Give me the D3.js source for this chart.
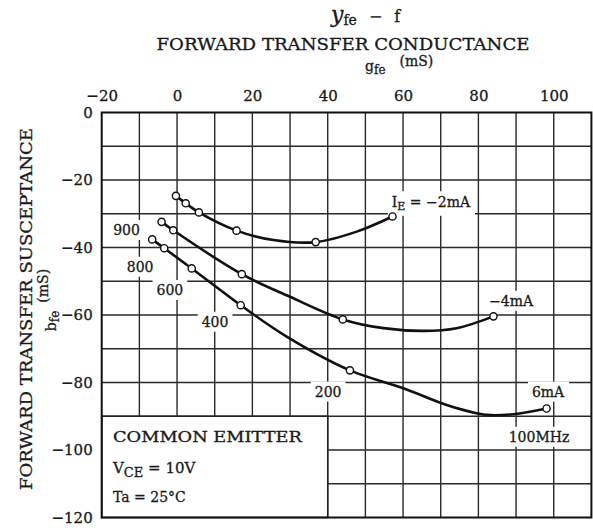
<!DOCTYPE html>
<html>
<head>
<meta charset="utf-8">
<script src="https://cdn.jsdelivr.net/npm/d3@7"></script>
<style>
  body { margin: 0; background: #fff; }
  text { font-family: "DejaVu Serif", "Liberation Serif", serif; fill: #1a1a1a; stroke: #1a1a1a; stroke-width: 0.3; }
</style>
</head>
<body>
<svg id="chart" width="593" height="528"></svg>
<script>
// Data (gfe mS, bfe mS)
const xTicks = [-20, 0, 20, 40, 60, 80, 100];
const yTicks = [0, -20, -40, -60, -80, -100, -120];

const ie2Marks = [[-0.3, -24.7], [2.3, -26.9], [5.8, -29.6], [15.8, -35.0], [36.8, -38.4], [57.2, -30.8]];
const ie2Line = [[-0.3, -24.7], [2.3, -26.9], [5.8, -29.6], [15.8, -35.0], [25.6, -37.8], [36.8, -38.4], [47.7, -35.3], [57.2, -30.8]];

const ie4Marks = [[-4.1, -32.4], [-1.0, -34.9], [17.2, -47.9], [44.0, -61.3], [84.0, -60.4]];
const ie4Line = [[-4.1, -32.4], [-1.0, -34.9], [17.2, -47.9], [30.0, -54.6], [44.0, -61.3], [54.8, -63.9], [65.4, -64.7], [74.2, -63.9], [84.0, -60.4]];

const ie6Marks = [[-6.6, -37.6], [-3.4, -40.2], [3.9, -46.2], [16.9, -57.1], [45.9, -76.4], [98.1, -87.7]];
const ie6Line = [[-6.6, -37.6], [-3.4, -40.2], [3.9, -46.2], [16.9, -57.1], [29.1, -66.4], [45.9, -76.4], [60.1, -81.7], [72, -86.8], [82.2, -89.6], [89.3, -89.4], [98.1, -87.7]];

// annotation labels [text, x, y]
const freqLabels = [["900", -13.4, -34.8], ["800", -9.8, -45.7], ["600", -1.9, -52.6], ["400", 10.1, -62], ["200", 40.1, -82.7], ["6mA", 98.5, -82.7], ["100MHz", 96.1, -96.1], ["−4mA", 88.7, -55.8]];

const svg = d3.select("#chart");
const x = d3.scaleLinear().domain([-20, 110]).range([101.7, 591.4]);
const y = d3.scaleLinear().domain([0, -120]).range([112.5, 517.5]);

// grid
const grid = svg.append("g").attr("stroke", "#2a2a2a").attr("stroke-width", 1.4);
grid.selectAll("line.v")
  .data(d3.range(-10, 110, 10))
  .join("line")
    .attr("x1", d => x(d)).attr("x2", d => x(d))
    .attr("y1", y(0)).attr("y2", y(-120));
grid.selectAll("line.h")
  .data(d3.range(-10, -120, -10))
  .join("line")
    .attr("class", "h")
    .attr("y1", d => y(d)).attr("y2", d => y(d))
    .attr("x1", x(-20)).attr("x2", x(110));

// condition box bottom-left
svg.append("rect")
  .attr("x", x(-20)).attr("y", y(-90))
  .attr("width", x(40) - x(-20)).attr("height", y(-120) - y(-90))
  .attr("fill", "#fff").attr("stroke", "#222").attr("stroke-width", 1.5);

// frame
svg.append("rect")
  .attr("x", x(-20)).attr("y", y(0))
  .attr("width", x(110) - x(-20)).attr("height", y(-120) - y(0))
  .attr("fill", "none").attr("stroke", "#111").attr("stroke-width", 2);

// axes
const xAxis = svg.append("g")
  .attr("transform", `translate(0,${y(0)})`)
  .call(d3.axisTop(x).tickValues(xTicks).tickSize(0).tickPadding(12));
const yAxis = svg.append("g")
  .attr("transform", `translate(${x(-20)},0)`)
  .call(d3.axisLeft(y).tickValues(yTicks).tickSize(0).tickPadding(9));
[xAxis, yAxis].forEach(a => {
  a.select(".domain").remove();
  a.selectAll("text").attr("font-family", "DejaVu Serif").attr("font-size", 15).attr("fill", "#1a1a1a");
});

// frequency labels with white background
const lab = svg.append("g");
freqLabels.forEach(([t, lx, ly]) => {
  const g = lab.append("g");
  const tx = g.append("text")
    .attr("x", x(lx)).attr("y", y(ly))
    .attr("text-anchor", "middle").attr("dominant-baseline", "central")
    .attr("font-size", 14).text(t);
  const b = tx.node().getBBox();
  g.insert("rect", "text")
    .attr("x", b.x - 4).attr("y", b.y - 2)
    .attr("width", b.width + 8).attr("height", b.height + 4)
    .attr("fill", "#fff");
});

// IE = -2mA label
{
  const g = lab.append("g");
  const t = g.append("text")
    .attr("x", x(67.4)).attr("y", y(-26.6))
    .attr("text-anchor", "middle").attr("dominant-baseline", "central")
    .attr("font-size", 14);
  t.append("tspan").text("I");
  t.append("tspan").attr("font-size", 11).attr("dy", 4).text("E");
  t.append("tspan").attr("dy", -4).text(" = −2mA");
  const b = t.node().getBBox();
  g.insert("rect", "text")
    .attr("x", b.x - 4).attr("y", b.y - 3)
    .attr("width", b.width + 8).attr("height", b.height + 6)
    .attr("fill", "#fff");
}

// curves
const line = d3.line().x(d => x(d[0])).y(d => y(d[1])).curve(d3.curveCatmullRom.alpha(0.5));
[ie2Line, ie4Line, ie6Line].forEach(s => {
  svg.append("path").attr("d", line(s))
    .attr("fill", "none").attr("stroke", "#111").attr("stroke-width", 2.6);
});
[ie2Marks, ie4Marks, ie6Marks].forEach(s => {
  svg.append("g").selectAll("circle")
    .data(s)
    .join("circle")
      .attr("cx", d => x(d[0])).attr("cy", d => y(d[1]))
      .attr("r", 3.6)
      .attr("fill", "#fff").attr("stroke", "#111").attr("stroke-width", 1.4);
});

// conditions text
svg.append("text").attr("x", x(-17)).attr("y", y(-96.1))
  .attr("dominant-baseline", "central").attr("font-size", 14)
  .attr("textLength", 189).attr("lengthAdjust", "spacingAndGlyphs")
  .text("COMMON EMITTER");
{
  const t = svg.append("text").attr("x", x(-17)).attr("y", y(-105.3))
    .attr("dominant-baseline", "central").attr("font-size", 15);
  t.append("tspan").text("V");
  t.append("tspan").attr("font-size", 13).attr("dy", 4).text("CE");
  t.append("tspan").attr("dy", -4).text(" = 10V");
}
svg.append("text").attr("x", x(-17)).attr("y", y(-113.8))
  .attr("dominant-baseline", "central").attr("font-size", 14)
  .text("Ta = 25°C");

// titles
{
  const t = svg.append("text").attr("x", 331).attr("y", 22)
    .attr("font-size", 16);
  t.append("tspan").attr("font-style", "italic").attr("font-size", 22).text("y");
  t.append("tspan").attr("font-size", 14).attr("dy", 3).text("fe");
  t.append("tspan").attr("dy", -3).attr("dx", 12).text("−");
  t.append("tspan").attr("dx", 12).text("f");
}
svg.append("text").attr("x", 343).attr("y", 50)
  .attr("text-anchor", "middle").attr("font-size", 16)
  .attr("textLength", 373).attr("lengthAdjust", "spacingAndGlyphs")
  .text("FORWARD TRANSFER CONDUCTANCE");
{
  const t = svg.append("text").attr("x", 365).attr("y", 71)
    .attr("font-size", 14);
  t.append("tspan").text("g");
  t.append("tspan").attr("font-size", 12).attr("dy", 3).text("fe");
  t.append("tspan").attr("dy", -8).attr("dx", 14).text("(mS)");
}
svg.append("text")
  .attr("transform", "translate(32,309) rotate(-90)")
  .attr("text-anchor", "middle").attr("font-size", 16)
  .attr("textLength", 362).attr("lengthAdjust", "spacingAndGlyphs")
  .text("FORWARD TRANSFER SUSCEPTANCE");
{
  const t = svg.append("text")
    .attr("transform", "translate(56,300) rotate(-90)")
    .attr("text-anchor", "middle").attr("font-size", 14);
  t.append("tspan").text("b");
  t.append("tspan").attr("font-size", 12).attr("dy", 3).text("fe");
  t.append("tspan").attr("dy", -11).attr("dx", 8).text("(mS)");
}
</script>
</body>
</html>
